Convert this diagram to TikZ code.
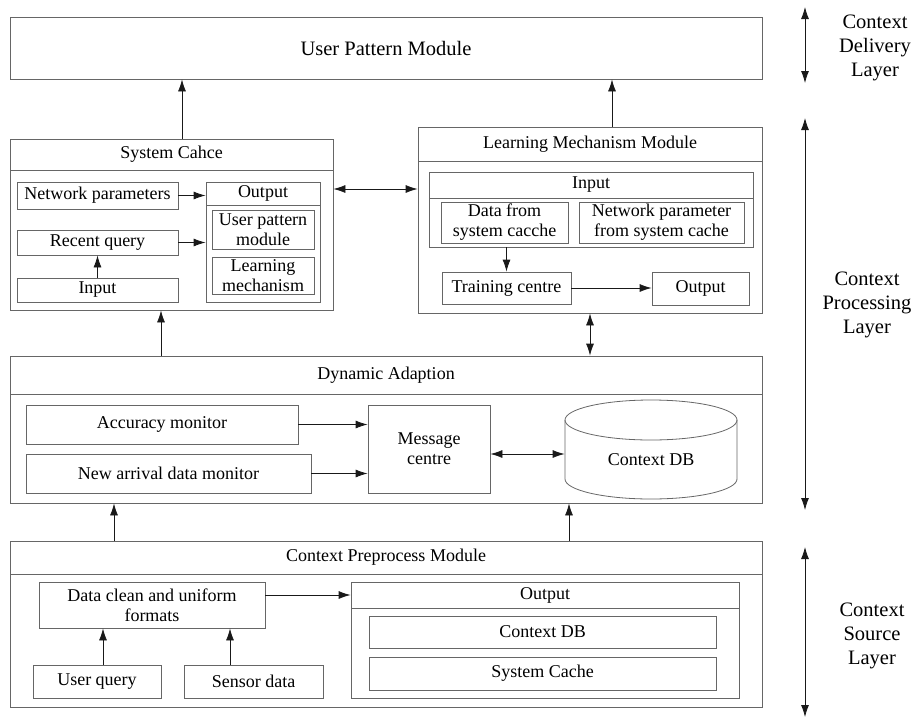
\documentclass[tikz,border=0pt]{standalone}
\usepackage{fontspec}
\setmainfont{Liberation Serif}
\usepackage{tikz}
\usetikzlibrary{positioning, calc, arrows.meta}

\tikzset{
  box/.style={draw=black!60, line width=0.8pt, inner sep=0pt, font=\fontsize{18}{20}\selectfont, align=center},
  arr/.style={draw=black!90, line width=0.8pt, -{Latex[length=12pt,width=8pt]}},
  darr/.style={draw=black!90, line width=0.8pt, {Latex[length=12pt,width=8pt]}-{Latex[length=12pt,width=8pt]}},
  layer/.style={font=\fontsize{20.5}{24}\selectfont, align=center},
}
% box from corner (x1,y1) to corner (x2,y2)
\newcommand{\blk}[7][]{\node [box, #1, minimum width={#5-#3}, minimum height={#6-#4}] (#2) at ({(#3+#5)/2},{(#4+#6)/2}) {#7};}

\begin{document}
\begin{tikzpicture}[x=1pt, y=-1pt]
\useasboundingbox (0,0) rectangle (916,718);

%//top module
\blk[font=\fontsize{20.5}{24}\selectfont]{upm}{10}{17}{762}{79}{User Pattern Module}

%//system cache
\blk{sc}{10}{139}{333}{310}{}
\blk{sct}{10}{139}{333}{170}{System Cahce}
\blk{np}{17}{182}{178}{209}{Network parameters}
\blk{rq}{17}{230}{178}{255}{Recent query}
\blk{inp}{17}{278}{178}{302}{Input}
\blk{sco}{206}{182}{320}{302}{}
\blk{scot}{206}{182}{320}{205}{Output}
\blk{upmod}{212}{210}{314}{249}{User pattern\\module}
\blk{lmech}{212}{257}{314}{294}{Learning\\mechanism}

%//learning mechanism module
\blk{lmm}{418}{127}{762}{313}{}
\blk{lmmt}{418}{127}{762}{161}{Learning Mechanism Module}
\blk{lin}{429}{172}{753}{247}{}
\blk{lint}{429}{172}{753}{198}{Input}
\blk{dfs}{441}{202}{568}{243}{Data from\\system cacche}
\blk{npf}{579}{202}{744}{243}{Network parameter\\from system cache}
\blk{tc}{442}{272}{571}{304}{Training centre}
\blk{lout}{652}{272}{749}{305}{Output}

%//dynamic adaption
\blk{da}{10}{356}{762}{503}{}
\blk{dat}{10}{356}{762}{394}{Dynamic Adaption}
\blk{acc}{26}{405}{298}{444}{Accuracy monitor}
\blk{nad}{26}{454}{311}{493}{New arrival data monitor}
\blk{mc}{368}{405}{490}{493}{Message\\centre}
\blk[draw=none]{db}{565}{420}{737}{499}{Context DB}
\draw [draw=black!60, line width=0.8pt] (651,420) ellipse [x radius=86pt, y radius=20pt];
\draw [draw=black!60, line width=0.8pt] (565,420) -- (565,479)
  arc [start angle=180, end angle=360, x radius=86pt, y radius=20pt] -- (737,420);

%//context preprocess module
\blk{cpm}{10}{541}{762}{707}{}
\blk{cpmt}{10}{541}{762}{574}{Context Preprocess Module}
\blk{dc}{39}{582}{265}{628}{Data clean and uniform\\formats}
\blk{uq}{33}{665}{161}{698}{User query}
\blk{sd}{184}{665}{323}{698}{Sensor data}
\blk{cpo}{351}{582}{739}{698}{}
\blk{cpot}{351}{582}{739}{608}{Output}
\blk{cdb}{369}{616}{716}{648}{Context DB}
\blk{scache}{369}{657}{716}{690}{System Cache}

%//connectors
\draw [arr] ([xshift=10.5pt]sc.north) -- ([xshift=10.5pt]sc.north |- upm.south);
\draw [arr] ([xshift=22pt]lmm.north) -- ([xshift=22pt]lmm.north |- upm.south);
\draw [arr] (np.east) -- (np.east -| sco.west);
\draw [arr] (rq.east) -- (rq.east -| sco.west);
\draw [arr] (inp.north) -- (rq.south);
\draw [darr] ([yshift=35.5pt]sc.east) -- ([yshift=35.5pt]sc.east -| lmm.west);
\draw [arr] (tc.north |- lin.south) -- (tc.north);
\draw [arr] (tc.east) -- (tc.east -| lout.west);
\draw [darr] (lmm.south) -- (lmm.south |- da.north);
\draw [arr] ([xshift=-10.5pt]sc.south |- da.north) -- ([xshift=-10.5pt]sc.south);
\draw [arr] (acc.east) -- (acc.east -| mc.west);
\draw [arr] (nad.east) -- (nad.east -| mc.west);
\draw [darr] ([yshift=-5pt]mc.east) -- ([yshift=-5pt]mc.east -| db.west);
\draw [arr] ([xshift=-272pt]cpm.north) -- ([xshift=-272pt]cpm.north |- da.south);
\draw [arr] ([xshift=183pt]cpm.north) -- ([xshift=183pt]cpm.north |- da.south);
\draw [arr] ([xshift=6pt]uq.north) -- ([xshift=6pt]uq.north |- dc.south);
\draw [arr] ([xshift=-23.5pt]sd.north) -- ([xshift=-23.5pt]sd.north |- dc.south);
\draw [arr] (dc.east |- cpot.west) -- (cpot.west);

%//layers
\foreach \t/\b/\n in {7/83/del, 118/510/pro, 547/717/src}{
  \coordinate (\n top) at (805,\t);
  \coordinate (\n bot) at (805,\b);
  \draw [darr] (\n top) -- (\n bot);
}
\node [layer] (ldel) at (875,48) {Context\\Delivery\\Layer};
\node [layer] (lpro) at (867,305) {Context\\Processing\\Layer};
\node [layer] (lsrc) at (872,636) {Context\\Source\\Layer};
\end{tikzpicture}
\end{document}
